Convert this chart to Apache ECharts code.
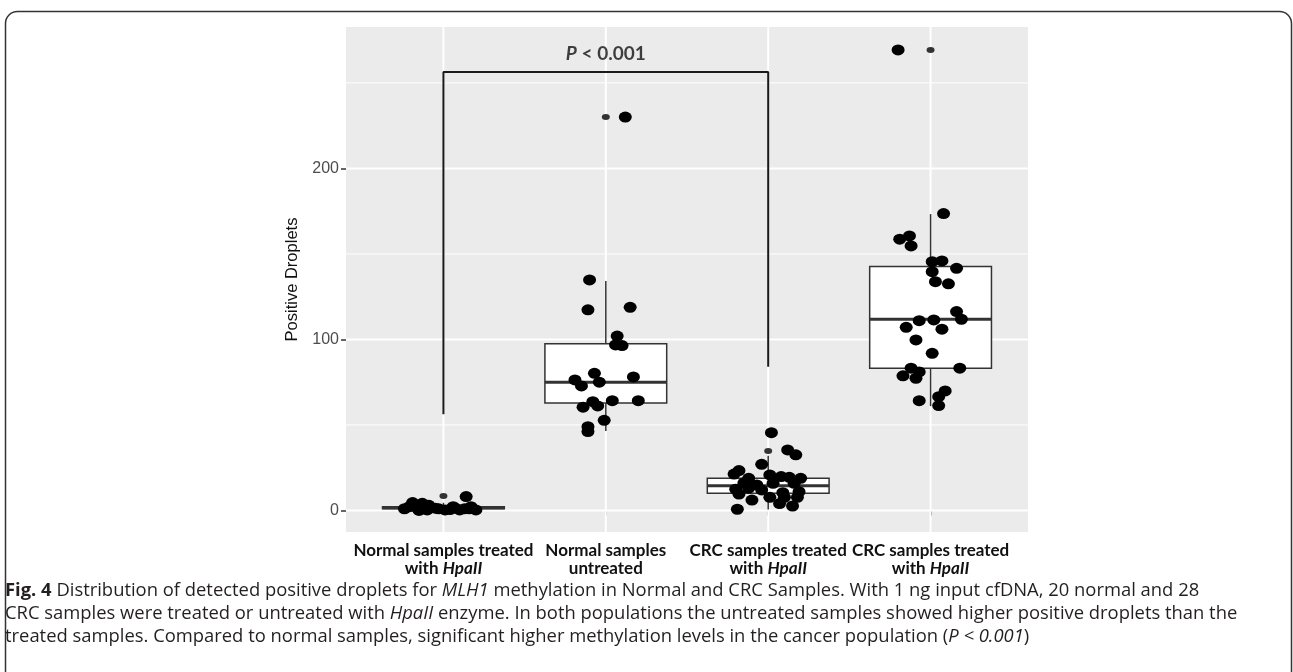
<!DOCTYPE html>
<html><head><meta charset="utf-8">
<script src="https://cdn.jsdelivr.net/npm/echarts@6/dist/echarts.min.js"></script>
<style>html,body{margin:0;padding:0;background:#fff}#c{width:1293px;height:672px}</style>
</head><body><div id="c"></div>
<script>
// ---- categories / labels ----
const labelLine1 = ['Normal samples treated', 'Normal samples', 'CRC samples treated', 'CRC samples treated'];
const labelLine2Plain = ['with ', 'untreated', 'with ', 'with '];
const labelLine2Italic = ['HpaII', '', 'HpaII', 'HpaII'];
const yTicks = [0, 100, 200];
const yMinorGrid = [50, 150, 250];
const xTicks = [1, 2, 3, 4];

// ---- jittered points (value, horizontal jitter offset in category units) ----
const normalTreatedValues = [4.6, 4.2, 8.1, 0.3, 0.3, 0.3, 2.2, 0.3, 2.2, 1.3, 2.2, 0, 1, 1, 2, 0.5, 3, 1, 1.5, 1];
const normalTreatedJitter = [-0.19, -0.13, 0.14, -0.10, 0.01, 0.10, 0.17, 0.20, -0.21, -0.05, 0.06, -0.15, -0.03, 0.13, -0.17, 0.04, -0.09, 0.16, 0.07, -0.24];

const normalUntreatedValues = [134.8, 117.3, 118.8, 102, 96.8, 96.4, 80.2, 76.3, 72.8, 75, 78.1, 60.4, 63.6, 61.1, 64.2, 64.2, 52.7, 49, 46.1, 230];
const normalUntreatedJitter = [-0.10, -0.11, 0.15, 0.07, 0.06, 0.10, -0.07, -0.19, -0.15, -0.04, 0.17, -0.14, -0.08, -0.05, 0.04, 0.20, -0.01, -0.11, -0.11, 0.12];

const crcTreatedValues = [45.5, 35.4, 32.5, 27, 23.3, 21.3, 18.8, 20.8, 19.8, 19.4, 18.8, 14.9, 15.9, 15.9, 12.4, 13, 12, 10.4, 11, 9.6, 6.1, 7.7, 7.7, 7.7, 2.6, 0.7, 16, 4];
const crcTreatedJitter = [0.02, 0.12, 0.17, -0.04, -0.18, -0.21, -0.12, 0.01, 0.08, 0.13, 0.20, -0.07, 0.03, 0.16, -0.20, -0.12, -0.04, 0.09, 0.19, -0.18, -0.10, 0.01, 0.10, 0.18, 0.15, -0.19, -0.15, 0.07];

const crcSecondValues = [173.6, 158.6, 160.5, 154.7, 145.5, 145.9, 141.6, 139.6, 133.8, 132.5, 116.3, 111.8, 111, 111.4, 107.1, 106, 99.7, 91.9, 83.2, 83.2, 78.7, 77.3, 69.9, 66.5, 64.2, 61.3, 269.3, 81];
const crcSecondJitter = [0.08, -0.19, -0.13, -0.12, 0.01, 0.07, 0.16, 0.01, 0.03, 0.11, 0.16, 0.19, -0.07, 0.02, -0.15, 0.07, -0.09, 0.01, -0.12, 0.18, -0.17, -0.09, 0.09, 0.05, -0.07, 0.05, -0.20, -0.07];

// ---- box statistics per group ----
const boxLower  = [0, 46.5, 0.5, 61];
const boxQ1     = [1, 62.9, 10.1, 83.2];
const boxMedian = [1.6, 75, 14.5, 111.8];
const boxQ3     = [2.2, 97.5, 18.8, 142.6];
const boxUpper  = [4.5, 134.2, 32, 173.3];
const outlierValues = [8.5, 230, 34.8, 269.3];

// ---- significance bracket ----
const bracketX = [1, 1, 3, 3];
const bracketY = [56.3, 256.4, 256.4, 84.1];
const pLabelX = 2;

// ---- build ----
const groups = [
  [normalTreatedValues, normalTreatedJitter],
  [normalUntreatedValues, normalUntreatedJitter],
  [crcTreatedValues, crcTreatedJitter],
  [crcSecondValues, crcSecondJitter]
];
const pointData = [];
groups.forEach((g, gi) => g[0].forEach((v, k) => pointData.push([gi + 1 + g[1][k], v])));
const boxData = boxLower.map((_, i) => [i + 1, boxLower[i], boxQ1[i], boxMedian[i], boxQ3[i], boxUpper[i]]);
const outlierData = outlierValues.map((v, i) => [i + 1, v]);
const gridData = [];
yTicks.forEach(v => gridData.push([0, v, 2]));
yMinorGrid.forEach(v => gridData.push([0, v, 1]));
xTicks.forEach(v => gridData.push([1, v, 2]));
const bracketData = bracketX.map((x, i) => [x, bracketY[i]]);

const BOLD_FONT = 'Lato, "Liberation Sans", sans-serif';
const CAP_FONT = '"Open Sans", "Noto Sans", sans-serif';
const CAP_SIZE = 18.4;

const chart = echarts.init(document.getElementById('c'), null, {renderer: 'canvas'});
chart.setOption({
  animation: false,
  backgroundColor: '#fff',
  grid: {left: 346, top: 27, width: 682, height: 505, show: true, backgroundColor: '#EBEBEB', borderWidth: 0},
  xAxis: {
    type: 'value', min: 0.4, max: 4.6,
    axisLine: {show: false},
    splitLine: {show: false},
    axisTick: {show: true, customValues: xTicks, length: 5, lineStyle: {color: '#333', width: 1.5}},
    axisLabel: {
      customValues: xTicks, margin: 10,
      fontFamily: BOLD_FONT, fontWeight: 'bold', fontSize: 17, color: '#111', lineHeight: 18,
      formatter: function (val) {
        const i = Math.round(val) - 1;
        return labelLine1[i] + '\n' + labelLine2Plain[i] + (labelLine2Italic[i] ? '{i|' + labelLine2Italic[i] + '}' : '');
      },
      rich: {i: {fontFamily: BOLD_FONT, fontWeight: 'bold', fontStyle: 'italic', fontSize: 17, color: '#111', lineHeight: 18}}
    }
  },
  yAxis: {
    type: 'value', min: -12.6, max: 282.7,
    axisLine: {show: false},
    splitLine: {show: false},
    axisTick: {show: true, customValues: yTicks, length: 5, lineStyle: {color: '#333', width: 1.5}},
    axisLabel: {customValues: yTicks, margin: 7, fontFamily: '"Liberation Sans", Arial, sans-serif', fontSize: 16, color: '#4d4d4d'},
    name: 'Positive Droplets', nameLocation: 'middle', nameGap: 38,
    nameTextStyle: {fontFamily: '"Liberation Sans", Arial, sans-serif', fontSize: 16.5, color: '#111'}
  },
  series: [
    {
      type: 'custom', z: 1, silent: true,
      data: gridData,
      encode: {x: 1, y: 1},
      renderItem: function (params, api) {
        const cs = params.coordSys;
        const o = api.value(0), v = api.value(1), w = api.value(2);
        if (o === 0) {
          const y = api.coord([1, v])[1];
          return {type: 'line', shape: {x1: cs.x, y1: y, x2: cs.x + cs.width, y2: y}, style: {stroke: '#fff', lineWidth: w}};
        }
        const x = api.coord([v, 0])[0];
        return {type: 'line', shape: {x1: x, y1: cs.y, x2: x, y2: cs.y + cs.height}, style: {stroke: '#fff', lineWidth: w}};
      }
    },
    {
      type: 'line', z: 3, silent: true, data: bracketData, symbol: 'none',
      lineStyle: {color: '#1a1a1a', width: 2}
    },
    {
      type: 'scatter', z: 3, silent: true, data: [[pLabelX, bracketY[1]]], symbolSize: 0,
      label: {
        show: true, position: 'top', distance: 9,
        formatter: '{i|P} < 0.001',
        fontFamily: BOLD_FONT, fontWeight: 'bold', fontSize: 19, color: '#111',
        rich: {i: {fontFamily: BOLD_FONT, fontWeight: 'bold', fontStyle: 'italic', fontSize: 19, color: '#111'}}
      }
    },
    {
      type: 'custom', z: 4, silent: true, data: boxData,
      encode: {x: 0, y: [1, 2, 3, 4, 5]},
      renderItem: function (params, api) {
        const x = api.value(0), hw = 0.375;
        const lo = api.coord([x, api.value(1)]);
        const q1 = api.coord([x, api.value(2)]);
        const md = api.coord([x, api.value(3)]);
        const q3 = api.coord([x, api.value(4)]);
        const up = api.coord([x, api.value(5)]);
        const tl = api.coord([x - hw, api.value(4)]);
        const br = api.coord([x + hw, api.value(2)]);
        const st = {stroke: '#333', lineWidth: 1.5};
        return {type: 'group', children: [
          {type: 'line', shape: {x1: up[0], y1: up[1], x2: q3[0], y2: q3[1]}, style: st},
          {type: 'line', shape: {x1: lo[0], y1: lo[1], x2: q1[0], y2: q1[1]}, style: st},
          {type: 'rect', shape: {x: tl[0], y: tl[1], width: br[0] - tl[0], height: br[1] - tl[1]}, style: {fill: '#fff', stroke: '#333', lineWidth: 1.5}},
          {type: 'line', shape: {x1: tl[0], y1: md[1], x2: br[0], y2: md[1]}, style: {stroke: '#333', lineWidth: 3}}
        ]};
      }
    },
    {
      type: 'scatter', z: 5, silent: true, data: outlierData, symbol: 'circle', symbolSize: [8, 6],
      itemStyle: {color: '#333', opacity: 1}
    },
    {
      type: 'scatter', z: 6, silent: true, data: pointData, symbol: 'circle', symbolSize: [13, 11],
      itemStyle: {color: '#000', opacity: 1}
    }
  ],
  graphic: [
    {
      type: 'rect', left: 3, top: 9, silent: true,
      shape: {width: 1286, height: 720, r: 12},
      style: {fill: 'none', stroke: '#333', lineWidth: 1.5}
    },
    {
      type: 'text', left: 5, top: 579, silent: true,
      style: {
        text: '{b|Fig. 4} Distribution of detected positive droplets for {i|MLH1} methylation in Normal and CRC Samples. With 1 ng input cfDNA, 20 normal and 28\n' +
              'CRC samples were treated or untreated with {i|HpaII} enzyme. In both populations the untreated samples showed higher positive droplets than the\n' +
              'treated samples. Compared to normal samples, significant higher methylation levels in the cancer population ({i|P < 0.001})',
        font: CAP_SIZE + 'px "Open Sans", "Noto Sans", sans-serif',
        fill: '#231f20', lineHeight: 23,
        rich: {
          b: {fontFamily: CAP_FONT, fontWeight: 'bold', fontSize: CAP_SIZE, fill: '#231f20', lineHeight: 23},
          i: {fontFamily: CAP_FONT, fontStyle: 'italic', fontSize: CAP_SIZE, fill: '#231f20', lineHeight: 23}
        }
      }
    }
  ]
});
</script>
</body></html>
